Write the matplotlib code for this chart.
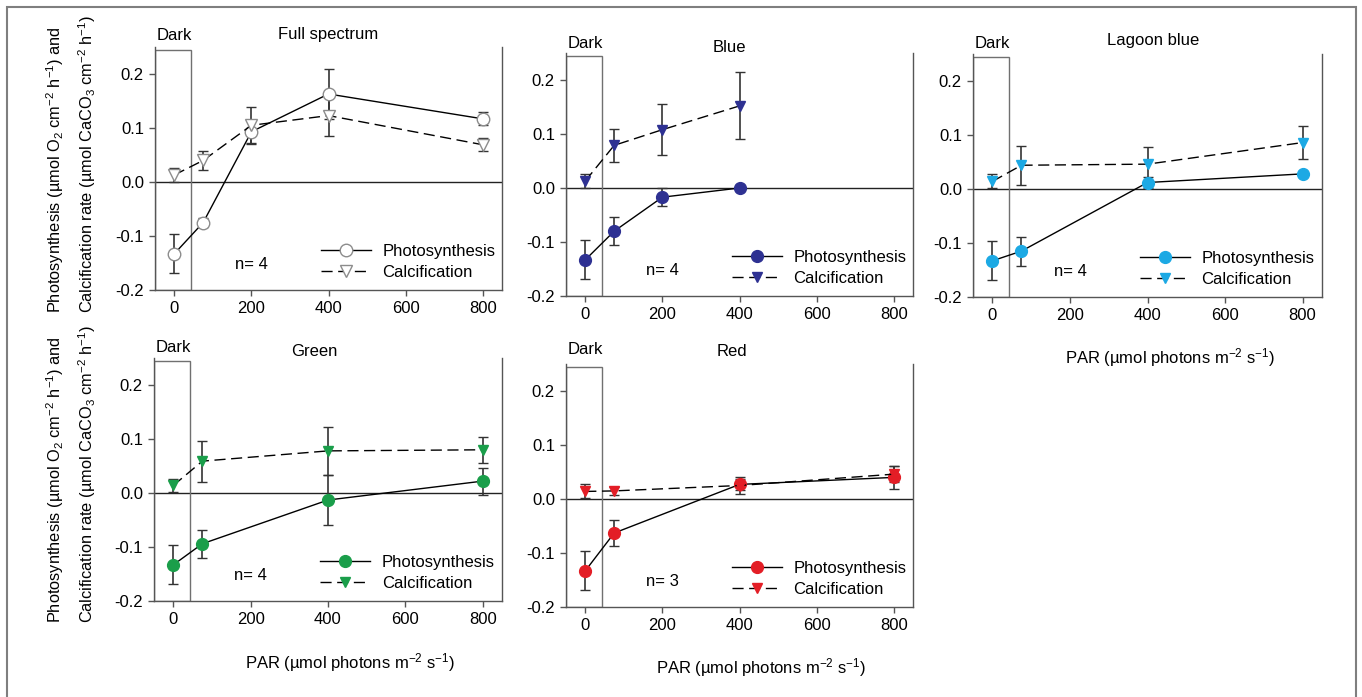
import matplotlib.pyplot as plt
from matplotlib.patches import Rectangle

plt.rcParams['font.family'] = ['Liberation Sans', 'DejaVu Sans']
plt.rcParams['mathtext.fontset'] = 'custom'
plt.rcParams['mathtext.rm'] = 'Liberation Sans'
plt.rcParams['mathtext.it'] = 'Liberation Sans'

W, H = 1362, 697
FS = 12

# data (PAR in umol photons m-2 s-1)
full_x = [0, 75, 200, 400, 800]
full_photo = [-0.133, -0.075, 0.093, 0.163, 0.117]
full_photo_err = [0.036, 0.008, 0.022, 0.047, 0.012]
full_calc = [0.013, 0.040, 0.105, 0.123, 0.069]
full_calc_err = [0.013, 0.018, 0.033, 0.037, 0.012]

blue_x = [0, 75, 200, 400]
blue_photo = [-0.133, -0.080, -0.017, 0.0]
blue_photo_err = [0.036, 0.026, 0.017, 0.0]
blue_calc = [0.013, 0.079, 0.108, 0.152]
blue_calc_err = [0.013, 0.030, 0.047, 0.062]

lagoon_x = [0, 75, 400, 800]
lagoon_photo = [-0.133, -0.115, 0.012, 0.028]
lagoon_photo_err = [0.036, 0.027, 0.010, 0.0]
lagoon_calc = [0.014, 0.044, 0.046, 0.086]
lagoon_calc_err = [0.013, 0.036, 0.032, 0.030]

green_x = [0, 75, 400, 800]
green_photo = [-0.133, -0.094, -0.013, 0.022]
green_photo_err = [0.036, 0.026, 0.046, 0.025]
green_calc = [0.014, 0.059, 0.078, 0.080]
green_calc_err = [0.012, 0.038, 0.044, 0.024]

red_x = [0, 75, 400, 800]
red_photo = [-0.133, -0.063, 0.027, 0.040]
red_photo_err = [0.036, 0.024, 0.010, 0.021]
red_calc = [0.014, 0.015, 0.025, 0.046]
red_calc_err = [0.013, 0.007, 0.015, 0.015]

titles = ['Full spectrum', 'Blue', 'Lagoon blue', 'Green', 'Red']
n_labels = ['n= 4', 'n= 4', 'n= 4', 'n= 4', 'n= 3']
colors = [None, '#2E3192', '#1CA9E4', '#1A9E4A', '#E31E26']

series = [
    (full_x, full_photo, full_photo_err, full_calc, full_calc_err),
    (blue_x, blue_photo, blue_photo_err, blue_calc, blue_calc_err),
    (lagoon_x, lagoon_photo, lagoon_photo_err, lagoon_calc, lagoon_calc_err),
    (green_x, green_photo, green_photo_err, green_calc, green_calc_err),
    (red_x, red_photo, red_photo_err, red_calc, red_calc_err),
]

# panel boxes in pixels: left, right, top, bottom
boxes = [(155, 502, 47, 290), (566, 913, 53, 296), (973, 1322, 54, 297),
         (154, 502, 358, 601), (566, 913, 364, 607)]
title_x = [400, 375, 415, 365, 380]
title_dy = [13, 6, 14, 7, 12]
dark_dy = [12, 10, 11, 11, 14]

fig = plt.figure(figsize=(W / 100, H / 100), dpi=100)

# outer frame
fig.patches.append(Rectangle((7 / W, -0.05), (1356 - 7) / W, 1.05 - 7 / H,
                             transform=fig.transFigure, fill=False,
                             ec='#7f7f7f', lw=1.5))

for i, (l, r, t, b) in enumerate(boxes):
    ax = fig.add_axes([l / W, 1 - b / H, (r - l) / W, (b - t) / H])
    x, ph, ph_e, ca, ca_e = series[i]
    c = colors[i]
    if c is None:
        fc, ec, ms_o, ms_v = 'white', '#8c8c8c', 9, 9
    else:
        fc, ec, ms_o, ms_v = c, c, 8.5, 7.5

    ax.errorbar(x, ph, yerr=ph_e, fmt='none', ecolor='#333333', elinewidth=1.2,
                capsize=3.3, capthick=1, zorder=3)
    ax.errorbar(x, ca, yerr=ca_e, fmt='none', ecolor='#333333', elinewidth=1.2,
                capsize=3.3, capthick=1, zorder=3)
    ax.plot(x, ph, '-', color='black', lw=1, marker='o', ms=ms_o, mfc=fc,
            mec=ec, zorder=4, label='Photosynthesis')
    ax.plot(x, ca, color='black', lw=1, dashes=(8, 4), marker='v', ms=ms_v,
            mfc=fc, mec=ec, zorder=4, label='Calcification')

    ax.axhline(0, color='#222222', lw=1, zorder=2)
    ax.add_patch(Rectangle((-50, -0.2), 94, 0.445, fill=False, ec='#707070',
                           lw=1, zorder=2))

    ax.set_xlim(-50, 850)
    ax.set_ylim(-0.2, 0.25)
    ax.set_xticks([0, 200, 400, 600, 800])
    ax.set_yticks([-0.2, -0.1, 0.0, 0.1, 0.2])
    ax.set_yticklabels(['-0.2', '-0.1', '0.0', '0.1', '0.2'])
    ax.tick_params(direction='out', length=4, width=1, color='#555555',
                   labelsize=FS, pad=4)
    ax.spines['top'].set_visible(False)
    for s in ['left', 'right', 'bottom']:
        ax.spines[s].set_color('#555555')
        ax.spines[s].set_linewidth(1)

    tr = ax.get_xaxis_transform()
    ax.annotate(titles[i], (title_x[i], 1), xycoords=tr,
                xytext=(0, title_dy[i] * 0.72), textcoords='offset points',
                ha='center', va='center', fontsize=FS)
    ax.annotate('Dark', (0, 1), xycoords=tr,
                xytext=(0, dark_dy[i] * 0.72), textcoords='offset points',
                ha='center', va='center', fontsize=FS)
    ax.text(200, -0.152, n_labels[i], ha='center', va='center', fontsize=FS)

    ax.legend(loc='upper left', bbox_to_anchor=(0.478, 0.19), frameon=False,
              borderaxespad=0, borderpad=0, handlelength=3, handletextpad=0.7,
              labelspacing=0.35, fontsize=FS)

# y labels
ylab1 = 'Photosynthesis (µmol O$_2$ cm$^{-2}$ h$^{-1}$) and'
ylab2 = 'Calcification rate (µmol CaCO$_3$ cm$^{-2}$ h$^{-1}$)'
for yb in [313, 623]:
    fig.text(55 / W, 1 - yb / H, ylab1, rotation=90, ha='center', va='bottom',
             fontsize=11.8)
    fig.text(87 / W, 1 - yb / H, ylab2, rotation=90, ha='center', va='bottom',
             fontsize=11.8)

# x labels
xlab = 'PAR (µmol photons m$^{-2}$ s$^{-1}$)'
for xc, yc in [(1170, 358), (350, 663), (761, 668)]:
    fig.text(xc / W, 1 - yc / H, xlab, ha='center', va='center', fontsize=FS)

fig.savefig('out.png', dpi=100)
